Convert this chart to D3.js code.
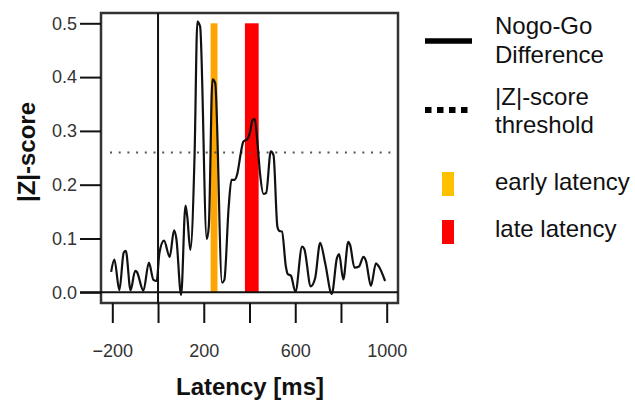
<!DOCTYPE html>
<html>
<head>
<meta charset="utf-8">
<script src="https://cdn.jsdelivr.net/npm/d3@7"></script>
<style>
body { margin: 0; background: #fff; }
text { font-family: "Liberation Sans", Arial, Helvetica, sans-serif; }
</style>
</head>
<body>
<div id="chart"></div>
<script>
// Nogo-Go difference, |Z|-score over latency (ms)
var latency = [-205, -191, -169, -150, -141, -120, -100, -93, -64, -40, -20, -6,
    6, 26, 51, 70, 80, 101, 120, 128, 141, 160, 172, 184, 213, 222, 238, 250,
    280, 290, 309, 321, 334, 347, 362, 373, 391, 403, 413, 423, 435, 446, 461,
    473, 493, 505, 522, 531, 542, 559, 567, 581, 601, 630, 640, 668, 687, 709,
    731, 760, 782, 792, 810, 832, 840, 859, 879, 898, 909, 931, 953, 964, 993];
var zscore = [0.038, 0.061, 0.004, 0.074, 0.077, 0.004, 0.040, 0.038, 0.003, 0.055, 0.023, 0.021,
    0.073, 0.096, 0.066, 0.115, 0.100, -0.005, 0.161, 0.140, 0.079, 0.259, 0.503, 0.494, 0.099, 0.122, 0.396, 0.389,
    0.018, 0.023, 0.159, 0.209, 0.209, 0.221, 0.259, 0.280, 0.285, 0.299, 0.320, 0.322, 0.277, 0.221, 0.183,
    0.185, 0.262, 0.255, 0.122, 0.114, 0.113, 0.048, 0.034, 0.031, 0.001, 0.085, 0.080, 0.011, 0.026, 0.092,
    0.054, -0.003, 0.063, 0.071, 0.024, 0.094, 0.088, 0.046, 0.048, 0.066, 0.059, 0.012, 0.054, 0.049, 0.021];
var threshold = 0.26;
var earlyWindow = [230, 260];
var lateWindow = [380, 440];
var barTop = 0.5;
var xTicks = [-200, 0, 200, 400, 600, 800, 1000];
var xLabelled = [-200, 200, 600, 1000];
var yTicks = [0, 0.1, 0.2, 0.3, 0.4, 0.5];
var legendLines = [["Nogo-Go", "Difference"], ["|Z|-score", "threshold"]];
var legendBars = ["early latency", "late latency"];

var W = 635, H = 401;
var box = {left: 101, top: 13, right: 398, bottom: 303};

var svg = d3.select("#chart").append("svg")
    .attr("width", W)
    .attr("height", H);

var x = d3.scaleLinear().domain([-200, 1000]).range([112.3, 386.7]);
var y = d3.scaleLinear().domain([0, 0.5]).range([292.3, 23.3]);

// latency windows
var windows = [{w: earlyWindow, c: "#ffa500"}, {w: lateWindow, c: "#ff0000"}];
svg.selectAll("rect.win").data(windows).enter()
    .append("rect")
    .attr("class", "win")
    .attr("x", d => x(d.w[0]))
    .attr("width", d => x(d.w[1]) - x(d.w[0]))
    .attr("y", y(barTop))
    .attr("height", y(0) - y(barTop))
    .attr("fill", d => d.c);

// threshold
svg.append("line")
    .attr("x1", 110).attr("x2", box.right)
    .attr("y1", y(threshold)).attr("y2", y(threshold))
    .attr("stroke", "#555")
    .attr("stroke-width", 2)
    .attr("stroke-dasharray", "2,6.7");

// frame
svg.append("rect")
    .attr("x", box.left).attr("y", box.top)
    .attr("width", box.right - box.left)
    .attr("height", box.bottom - box.top)
    .attr("fill", "none")
    .attr("stroke", "#333")
    .attr("stroke-width", 2.5);

// zero lines
svg.append("line")
    .attr("x1", 80).attr("x2", box.right)
    .attr("y1", y(0)).attr("y2", y(0))
    .attr("stroke", "#111").attr("stroke-width", 2);
svg.append("line")
    .attr("x1", x(0)).attr("x2", x(0))
    .attr("y1", box.top).attr("y2", box.bottom)
    .attr("stroke", "#111").attr("stroke-width", 2);

// axes
var fmtX = d3.format("");
var xAxis = svg.append("g")
    .attr("transform", "translate(0," + box.bottom + ")")
    .call(d3.axisBottom(x).tickValues(xTicks).tickSize(20).tickPadding(21)
        .tickFormat(d => xLabelled.indexOf(d) >= 0 ? fmtX(d) : ""));
var yAxis = svg.append("g")
    .attr("transform", "translate(" + box.left + ",0)")
    .call(d3.axisLeft(y).tickValues(yTicks).tickSize(21).tickPadding(3)
        .tickFormat(d3.format(".1f")));
[xAxis, yAxis].forEach(function (g) {
    g.select(".domain").remove();
    g.selectAll("line").attr("stroke", "#111").attr("stroke-width", 2);
    g.selectAll("text").attr("fill", "#333").style("font-size", "18px")
        .style("font-family", '"Liberation Sans", Arial, sans-serif');
});

// difference curve
var line = d3.line()
    .x(d => x(d[0]))
    .y(d => y(d[1]))
    .curve(d3.curveMonotoneX);
svg.append("path")
    .datum(d3.zip(latency, zscore))
    .attr("d", line)
    .attr("fill", "none")
    .attr("stroke", "#111")
    .attr("stroke-width", 2.2)
    .attr("stroke-linejoin", "round");

// axis titles
svg.append("text")
    .attr("x", (box.left + box.right) / 2 + 0.5).attr("y", 395)
    .attr("text-anchor", "middle")
    .style("font-size", "24px").style("font-weight", "bold")
    .attr("fill", "#111")
    .text("Latency [ms]");
svg.append("text")
    .attr("transform", "translate(35,152) rotate(-90)")
    .attr("text-anchor", "middle")
    .style("font-size", "24px").style("font-weight", "bold")
    .attr("fill", "#111")
    .text("|Z|-score");

// legend
var lg = svg.append("g");
lg.append("line")
    .attr("x1", 425).attr("x2", 472).attr("y1", 41).attr("y2", 41)
    .attr("stroke", "#000").attr("stroke-width", 5.5);
lg.append("line")
    .attr("x1", 425).attr("x2", 470).attr("y1", 110).attr("y2", 110)
    .attr("stroke", "#000").attr("stroke-width", 6)
    .attr("stroke-dasharray", "6.5,5.5");
var lineBase = [[34, 63], [104.5, 133]];
legendLines.forEach(function (rows, i) {
    rows.forEach(function (r, j) {
        lg.append("text")
            .attr("x", 495).attr("y", lineBase[i][j])
            .style("font-size", "24px").attr("fill", "#111")
            .text(r);
    });
});
var barCols = ["#ffc000", "#ff0000"];
var barY = [172, 220];
var barBase = [190, 237];
legendBars.forEach(function (r, i) {
    lg.append("rect")
        .attr("x", 442).attr("y", barY[i]).attr("width", 12).attr("height", 24)
        .attr("fill", barCols[i]);
    lg.append("text")
        .attr("x", 495).attr("y", barBase[i])
        .style("font-size", "24px").attr("fill", "#111")
        .text(r);
});
</script>
</body>
</html>
